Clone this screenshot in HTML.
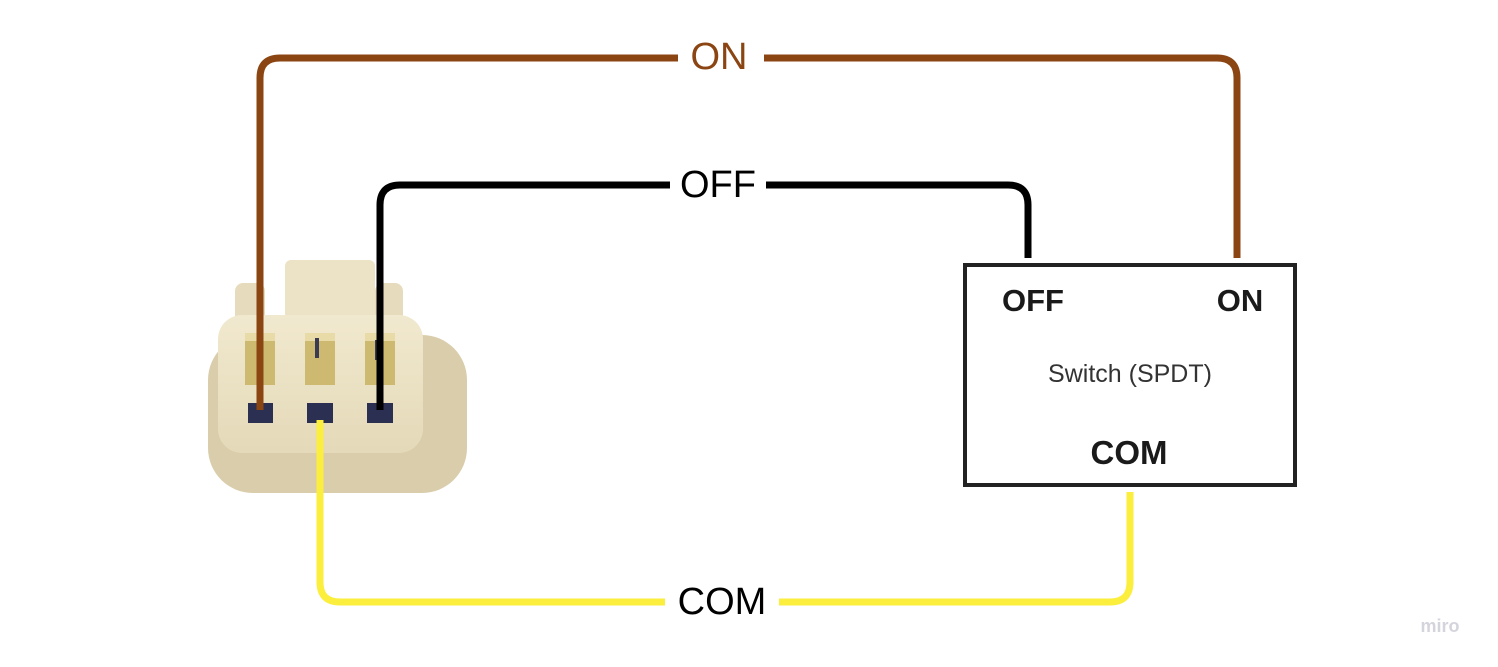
<!DOCTYPE html>
<html><head><meta charset="utf-8"><style>
html,body{margin:0;padding:0;background:#fff;width:1498px;height:667px;overflow:hidden}
svg text{font-family:"Liberation Sans",sans-serif}
</style></head><body>
<svg width="1498" height="667" viewBox="0 0 1498 667" xmlns="http://www.w3.org/2000/svg">
<defs>
<linearGradient id="g1" x1="0" y1="0" x2="0" y2="1"><stop offset="0" stop-color="#f1e9cf"/><stop offset="1" stop-color="#e4d9b8"/></linearGradient>
</defs>
<!-- connector -->
<rect x="208" y="335" width="259" height="158" rx="45" fill="#d9cdab"/>
<rect x="285" y="260" width="90" height="60" rx="6" fill="#ece3c6"/>
<rect x="235" y="283" width="30" height="40" rx="8" fill="#e6dcbd"/>
<rect x="375" y="283" width="28" height="40" rx="8" fill="#e6dcbd"/>
<rect x="218" y="315" width="205" height="138" rx="24" fill="url(#g1)"/>
<rect x="245" y="333" width="30" height="52" fill="#cdb970"/>
<rect x="305" y="333" width="30" height="52" fill="#cdb970"/>
<rect x="365" y="333" width="30" height="52" fill="#cdb970"/>
<rect x="245" y="333" width="30" height="8" fill="#e8dba8"/>
<rect x="305" y="333" width="30" height="8" fill="#e8dba8"/>
<rect x="365" y="333" width="30" height="8" fill="#e8dba8"/>
<rect x="315" y="338" width="4" height="20" fill="#3a3a55"/>
<rect x="375" y="340" width="4" height="20" fill="#3a3a55"/>
<rect x="248" y="403" width="25" height="20" fill="#2b2f52"/>
<rect x="307" y="403" width="26" height="20" fill="#2b2f52"/>
<rect x="367" y="403" width="26" height="20" fill="#2b2f52"/>
<!-- wires -->
<path d="M260 410 V78 Q260 58 280 58 H1217 Q1237 58 1237 78 V258" fill="none" stroke="#8b4513" stroke-width="7"/>
<path d="M380 410 V205 Q380 185 400 185 H1008 Q1028 185 1028 205 V258" fill="none" stroke="#000" stroke-width="7"/>
<path d="M320 420 V582 Q320 602 340 602 H1110 Q1130 602 1130 582 V492" fill="none" stroke="#fbee3c" stroke-width="7"/>
<!-- labels -->
<rect x="678" y="35" width="86" height="44" fill="#fff"/>
<text x="719" y="69" font-size="38" fill="#8b4513" text-anchor="middle">ON</text>
<rect x="670" y="162" width="96" height="44" fill="#fff"/>
<text x="718" y="197" font-size="38" fill="#000" text-anchor="middle">OFF</text>
<rect x="665" y="578" width="114" height="44" fill="#fff"/>
<text x="722" y="614" font-size="38" fill="#000" text-anchor="middle">COM</text>
<!-- switch box -->
<rect x="965" y="265" width="330" height="220" fill="#fff" stroke="#222" stroke-width="4"/>
<text x="1033" y="311" font-size="31" font-weight="bold" fill="#1a1a1a" text-anchor="middle">OFF</text>
<text x="1240" y="311" font-size="31" font-weight="bold" fill="#1a1a1a" text-anchor="middle">ON</text>
<text x="1130" y="382" font-size="25" fill="#333" text-anchor="middle">Switch (SPDT)</text>
<text x="1129" y="464" font-size="33" font-weight="bold" fill="#1a1a1a" text-anchor="middle">COM</text>
<text x="1440" y="632" font-size="18" font-weight="bold" fill="#d4d4dc" text-anchor="middle">miro</text>
</svg>
</body></html>
